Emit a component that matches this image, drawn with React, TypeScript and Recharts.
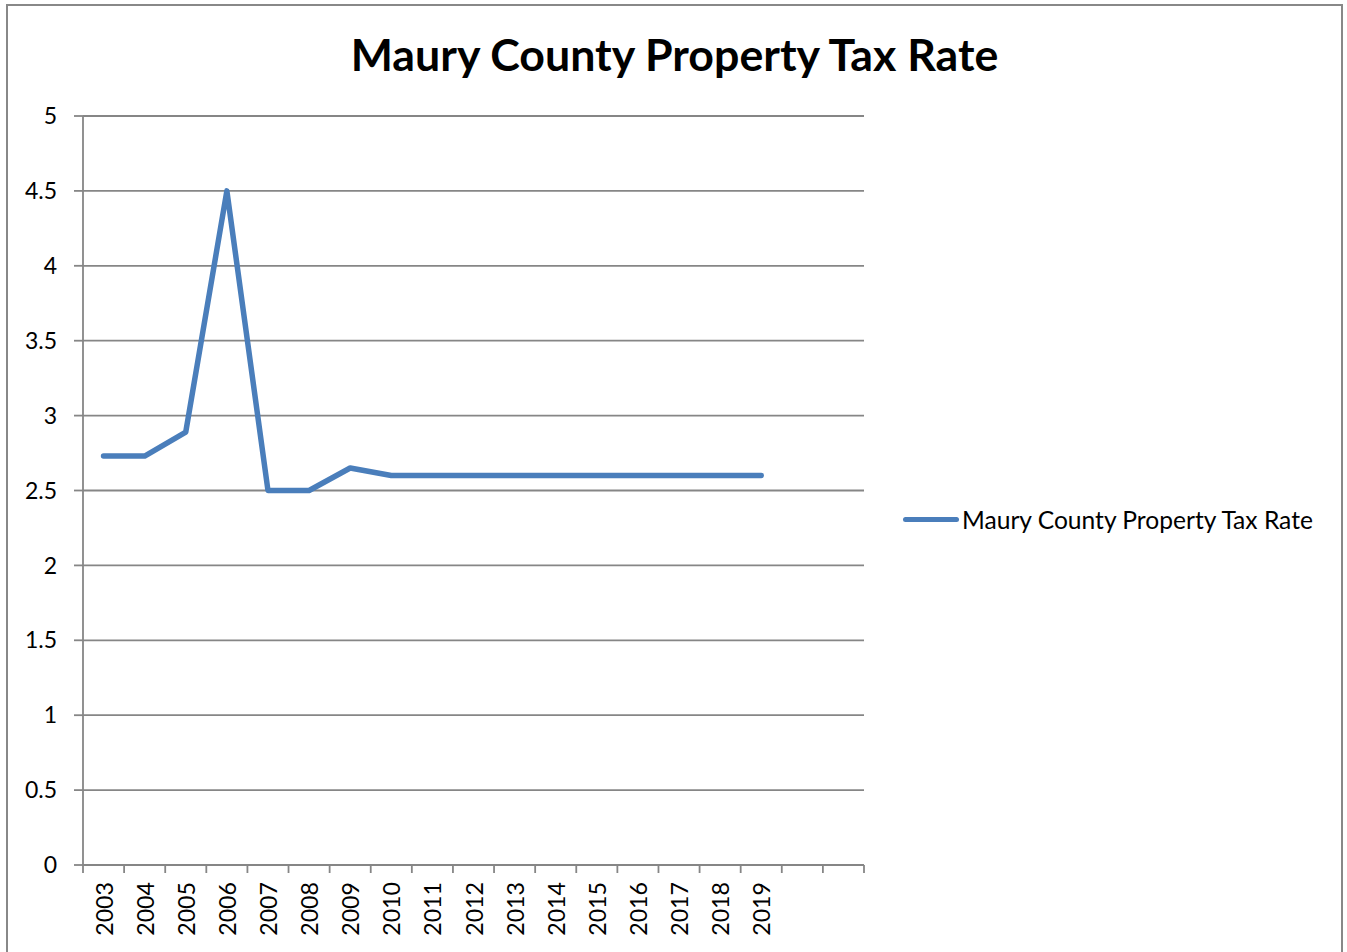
import React from 'react';
import { LineChart, Line, XAxis, YAxis, CartesianGrid, Legend } from 'recharts';

const TITLE = 'Maury County Property Tax Rate';
const SERIES_NAME = 'Maury County Property Tax Rate';

const years = ['2003', '2004', '2005', '2006', '2007', '2008', '2009', '2010', '2011', '2012', '2013', '2014', '2015', '2016', '2017', '2018', '2019'];
const rates = [2.73, 2.73, 2.89, 4.5, 2.5, 2.5, 2.65, 2.6, 2.6, 2.6, 2.6, 2.6, 2.6, 2.6, 2.6, 2.6, 2.6];
// two empty category slots at the end of the axis
const emptySlots = ['', ' '];
const yTicks = [0, 0.5, 1, 1.5, 2, 2.5, 3, 3.5, 4, 4.5, 5];

const categories = [...years, ...emptySlots];
const data = categories.map((c, i) => ({ year: c, slot: i + 0.5, rate: i < rates.length ? rates[i] : null }));
const slotBoundaries = Array.from({ length: categories.length + 1 }, (_, i) => i);

const FONT = 'Lato, "Open Sans", sans-serif';
const GRID = '#868686';
const BLUE = '#4a7ebb';

const XTick = (props: any) => {
  const { x, y, payload } = props;
  return (
    <text
      x={x}
      y={y}
      transform={`rotate(-90, ${x}, ${y})`}
      textAnchor="end"
      dominantBaseline="central"
      fontFamily={FONT}
      fontSize={23.2}
      fill="#000"
    >
      {payload.value}
    </text>
  );
};

const LegendContent = (props: any) => {
  const { payload } = props;
  return (
    <div style={{ display: 'flex', alignItems: 'center', fontFamily: FONT, fontSize: 24.6, color: '#000' }}>
      {(payload || []).map((p: any) => (
        <div key={p.value} style={{ display: 'flex', alignItems: 'center' }}>
          <div style={{ width: 56, height: 5.5, borderRadius: 3, background: BLUE, marginRight: 3 }} />
          <span>{p.value}</span>
        </div>
      ))}
    </div>
  );
};

export default function App() {
  return (
    <div style={{ position: 'absolute', left: 0, top: 0, width: 1347, height: 952, background: '#fff', overflow: 'hidden' }}>
      <div
        style={{
          position: 'absolute',
          left: 6,
          top: 4,
          width: 1337,
          height: 970,
          border: '2px solid #888',
          boxSizing: 'border-box',
        }}
      />
      <div
        style={{
          position: 'absolute',
          left: 0,
          top: 24,
          width: 1349,
          textAlign: 'center',
          fontFamily: FONT,
          fontWeight: 700,
          fontSize: 44.7,
          color: '#000',
          lineHeight: '60px',
        }}
      >
        {TITLE}
      </div>
      <div style={{ position: 'absolute', left: 0, top: 0 }}>
        <LineChart width={1347} height={952} data={data} margin={{ top: 116, right: 483, bottom: 0, left: 0 }}>
          <CartesianGrid xAxisId="b_cat" vertical={false} stroke={GRID} strokeWidth={1.8} />
          <XAxis
            xAxisId="b_cat"
            dataKey="year"
            scale="band"
            interval={0}
            height={86}
            axisLine={false}
            tickLine={false}
            tickSize={0}
            tickMargin={16}
            tick={<XTick />}
          />
          <XAxis
            xAxisId="a_marks"
            dataKey="slot"
            type="number"
            domain={[0, categories.length]}
            ticks={slotBoundaries}
            allowDataOverflow
            height={1}
            tickSize={8}
            tickFormatter={() => ''}
            axisLine={{ stroke: GRID, strokeWidth: 1.8 }}
            tickLine={{ stroke: GRID, strokeWidth: 1.8 }}
          />
          <YAxis
            domain={[0, 5]}
            ticks={yTicks}
            width={83}
            interval={0}
            tickSize={9}
            tickMargin={17}
            axisLine={{ stroke: GRID, strokeWidth: 1.8 }}
            tickLine={{ stroke: GRID, strokeWidth: 1.8 }}
            tick={{ fontFamily: FONT, fontSize: 23, fill: '#000' }}
          />
          <Line
            xAxisId="b_cat"
            type="linear"
            dataKey="rate"
            name={SERIES_NAME}
            stroke={BLUE}
            strokeWidth={5.5}
            strokeLinejoin="round"
            strokeLinecap="round"
            dot={false}
            activeDot={false}
            isAnimationActive={false}
            connectNulls={false}
          />
          <Legend
            layout="horizontal"
            verticalAlign="middle"
            align="center"
            content={<LegendContent />}
            wrapperStyle={{ position: 'absolute', left: 903, top: 505, width: 440, height: 30 }}
          />
        </LineChart>
      </div>
    </div>
  );
}
